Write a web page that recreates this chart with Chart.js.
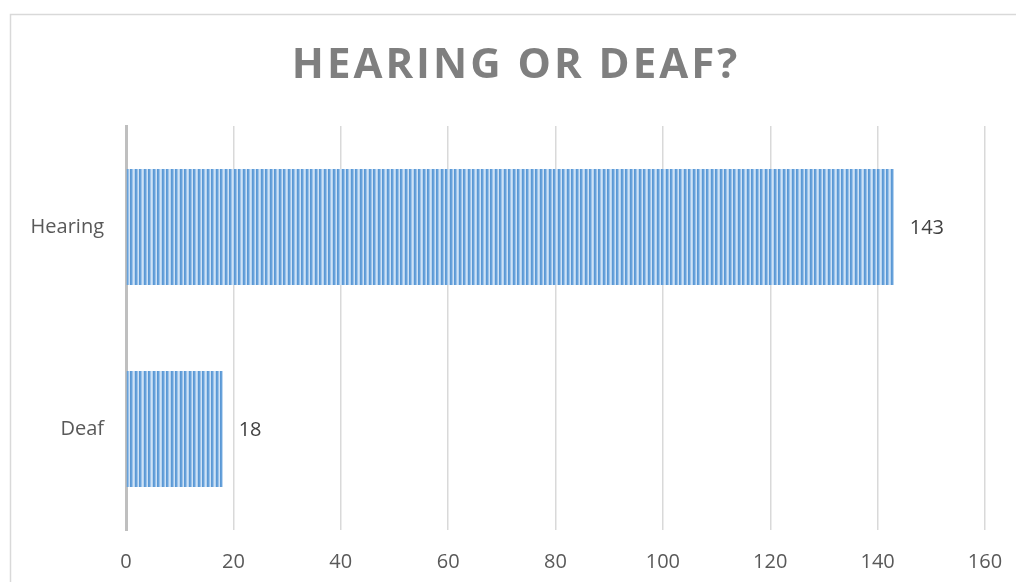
<!DOCTYPE html>
<html>
<head>
<meta charset="utf-8">
<script src="https://cdn.jsdelivr.net/npm/chart.js@4.4.1/dist/chart.umd.min.js"></script>
<style>
  html, body { margin: 0; padding: 0; background: #ffffff; }
  #wrap { width: 1016px; height: 582px; }
</style>
</head>
<body>
<div id="wrap"><canvas id="c" width="1016" height="582"></canvas></div>
<script>
// Survey answers
const categories = ['Hearing', 'Deaf'];
const counts = [143, 18];
const xTicks = [0, 20, 40, 60, 80, 100, 120, 140, 160];
const chartTitle = 'HEARING OR DEAF?';

const FONT = "'Open Sans', 'DejaVu Sans', sans-serif";

// Vertical stripe fill for the bars
function stripePattern() {
  const p = document.createElement('canvas');
  p.width = 9; p.height = 4;
  const g = p.getContext('2d');
  const cols = ['#5b98d4', '#67a2db', '#9cc3ea', '#cfe2f5', '#5b98d4', '#67a2db', '#9cc3ea', '#cfe2f5', '#b7d4f0'];
  cols.forEach((c, i) => { g.fillStyle = c; g.fillRect(i, 0, 1, 4); });
  return g.createPattern(p, 'repeat');
}

const ctx = document.getElementById('c').getContext('2d');

// Outer frame, title and value labels
const decor = {
  id: 'decor',
  beforeDraw(chart) {
    const c = chart.ctx;
    c.save();
    c.fillStyle = '#ffffff';
    c.fillRect(0, 0, chart.width, chart.height);
    c.strokeStyle = '#d9d9d9';
    c.lineWidth = 1.5;
    c.strokeRect(10.5, 14.5, chart.width + 20, chart.height + 20);
    c.restore();
  },
  afterDraw(chart) {
    const c = chart.ctx;
    c.save();
    c.fillStyle = '#7f7f7f';
    c.font = "bold 42px " + FONT;
    c.letterSpacing = '3px';
    c.textAlign = 'center';
    c.textBaseline = 'middle';
    c.fillText(chartTitle, 516, 66);
    c.restore();

    const meta = chart.getDatasetMeta(0);
    c.save();
    c.fillStyle = '#404040';
    c.font = "20px " + FONT;
    c.textAlign = 'left';
    c.textBaseline = 'middle';
    meta.data.forEach((bar, i) => {
      c.fillText(String(counts[i]), bar.x + 16, bar.y + 1);
    });
    c.restore();
  }
};

new Chart(ctx, {
  type: 'bar',
  data: {
    labels: categories,
    datasets: [{
      data: counts,
      backgroundColor: stripePattern(),
      borderWidth: 0,
      barPercentage: 0.574,
      categoryPercentage: 1.0
    }]
  },
  options: {
    indexAxis: 'y',
    responsive: false,
    animation: false,
    devicePixelRatio: 1,
    layout: { padding: { top: 126, right: 31, bottom: 0, left: 0 } },
    plugins: {
      legend: { display: false },
      title: { display: false },
      tooltip: { enabled: false }
    },
    scales: {
      x: {
        min: 0,
        max: 160,
        afterBuildTicks(axis) { axis.ticks = xTicks.map(v => ({ value: v })); },
        afterFit(axis) { axis.height = 52; axis.paddingLeft = 0; axis.paddingRight = 0; },
        grid: { color: '#d9d9d9', lineWidth: 1.5, drawTicks: false },
        border: { display: false },
        ticks: { color: '#595959', font: { family: FONT, size: 20 }, padding: 20, maxRotation: 0 }
      },
      y: {
        afterFit(axis) { axis.width = 126; },
        grid: { display: false, drawTicks: false },
        border: { color: '#bfbfbf', width: 3 },
        ticks: { color: '#595959', font: { family: FONT, size: 20 }, padding: 22 }
      }
    }
  },
  plugins: [decor]
});
</script>
</body>
</html>
